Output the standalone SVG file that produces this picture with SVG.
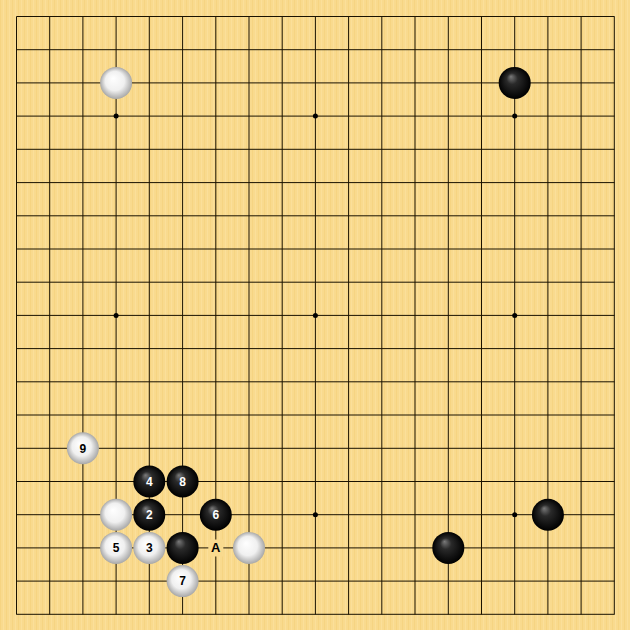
<svg xmlns="http://www.w3.org/2000/svg" width="630" height="630" viewBox="0 0 630 630">
<defs>
<pattern id="wood" width="6" height="10" patternUnits="userSpaceOnUse">
<rect width="6" height="10" fill="#F9DA8E"/>
<rect x="0" width="1" height="10" fill="#F6D482"/>
<rect x="3" width="1" height="10" fill="#FBDF9A"/>
</pattern>
<radialGradient id="gb" cx="0.5" cy="0.5" r="0.5" fx="0.38" fy="0.3">
<stop offset="0" stop-color="#7a7a7a"/>
<stop offset="0.35" stop-color="#2a2a2a"/>
<stop offset="1" stop-color="#000"/>
</radialGradient>
<radialGradient id="gw" cx="0.5" cy="0.5" r="0.5" fx="0.4" fy="0.35">
<stop offset="0" stop-color="#ffffff"/>
<stop offset="0.6" stop-color="#f0f0f0"/>
<stop offset="1" stop-color="#a8a8a8"/>
</radialGradient>
</defs>
<style>
.ln{stroke:#1a1200;stroke-width:1;fill:none}
.b{fill:url(#gb)}
.w{fill:url(#gw)}
.nb{font-family:"Liberation Sans",Arial,sans-serif;font-weight:bold;font-size:12px;fill:#fff;text-anchor:middle}
.nw{font-family:"Liberation Sans",Arial,sans-serif;font-weight:bold;font-size:12px;fill:#000;text-anchor:middle}
.star{fill:#000}
</style>
<rect width="630" height="630" fill="url(#wood)"/>
<g id="grid" class="ln">
<path d="M16.5 16.5V614.5M49.7 16.5V614.5M82.9 16.5V614.5M116.1 16.5V614.5M149.3 16.5V614.5M182.6 16.5V614.5M215.8 16.5V614.5M249 16.5V614.5M282.2 16.5V614.5M315.4 16.5V614.5M348.6 16.5V614.5M381.8 16.5V614.5M415 16.5V614.5M448.3 16.5V614.5M481.5 16.5V614.5M514.7 16.5V614.5M547.9 16.5V614.5M581.1 16.5V614.5M614.3 16.5V614.5"/>
<path d="M16.5 16.5H614.5M16.5 49.7H614.5M16.5 82.9H614.5M16.5 116.1H614.5M16.5 149.3H614.5M16.5 182.6H614.5M16.5 215.8H614.5M16.5 249H614.5M16.5 282.2H614.5M16.5 315.4H614.5M16.5 348.6H614.5M16.5 381.8H614.5M16.5 415H614.5M16.5 448.3H614.5M16.5 481.5H614.5M16.5 514.7H614.5M16.5 547.9H614.5M16.5 581.1H614.5M16.5 614.3H614.5"/>
</g>
<g id="stars" class="star">
<circle cx="116.1" cy="116.1" r="2.5"/><circle cx="315.4" cy="116.1" r="2.5"/><circle cx="514.7" cy="116.1" r="2.5"/>
<circle cx="116.1" cy="315.4" r="2.5"/><circle cx="315.4" cy="315.4" r="2.5"/><circle cx="514.7" cy="315.4" r="2.5"/>
<circle cx="116.1" cy="514.7" r="2.5"/><circle cx="315.4" cy="514.7" r="2.5"/><circle cx="514.7" cy="514.7" r="2.5"/>
</g>
<g id="stones">
<g id="w-c3r2"><circle class="w" cx="116.1" cy="82.9" r="16"/></g>
<g id="b-c15r2"><circle class="b" cx="514.7" cy="82.9" r="16"/></g>
<g id="w9"><circle class="w" cx="82.9" cy="448.3" r="16"/><text class="nw" x="82.9" y="452.5">9</text></g>
<g id="b4"><circle class="b" cx="149.3" cy="481.5" r="16"/><text class="nb" x="149.3" y="485.7">4</text></g>
<g id="b8"><circle class="b" cx="182.6" cy="481.5" r="16"/><text class="nb" x="182.6" y="485.7">8</text></g>
<g id="w-c3r15"><circle class="w" cx="116.1" cy="514.7" r="16"/></g>
<g id="b2"><circle class="b" cx="149.3" cy="514.7" r="16"/><text class="nb" x="149.3" y="518.9">2</text></g>
<g id="b6"><circle class="b" cx="215.8" cy="514.7" r="16"/><text class="nb" x="215.8" y="518.9">6</text></g>
<g id="b-c16r15"><circle class="b" cx="547.9" cy="514.7" r="16"/></g>
<g id="w5"><circle class="w" cx="116.1" cy="547.9" r="16"/><text class="nw" x="116.1" y="552.1">5</text></g>
<g id="w3"><circle class="w" cx="149.3" cy="547.9" r="16"/><text class="nw" x="149.3" y="552.1">3</text></g>
<g id="b-c5r16"><circle class="b" cx="182.6" cy="547.9" r="16"/></g>
<g id="labelA"><rect x="208.3" y="539.5" width="15" height="17" fill="#F9DA8E"/><text class="nw" x="215.8" y="552.3" style="font-size:13px">A</text></g>
<g id="w-c7r16"><circle class="w" cx="249" cy="547.9" r="16"/></g>
<g id="b-c13r16"><circle class="b" cx="448.3" cy="547.9" r="16"/></g>
<g id="w7"><circle class="w" cx="182.6" cy="581.1" r="16"/><text class="nw" x="182.6" y="585.3">7</text></g>
</g>
</svg>
